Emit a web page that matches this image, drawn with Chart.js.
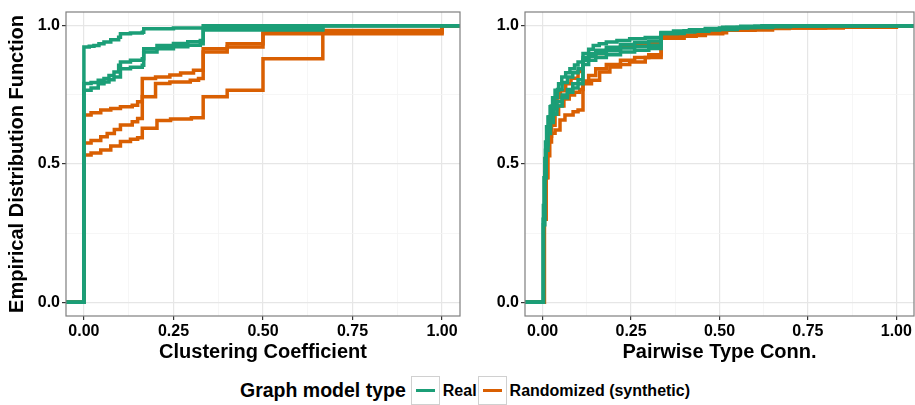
<!DOCTYPE html>
<html lang="en">
<head>
<meta charset="UTF-8">
<title>Empirical Distribution Function</title>
<script src="https://cdn.jsdelivr.net/npm/chart.js"></script>
<style>
  body {
    margin: 0;
    background: #ffffff;
    font-family: "Liberation Sans", Arial, sans-serif;
  }
  #wrap {
    position: relative;
    width: 915px;
    height: 405px;
    overflow: hidden;
  }
  .panel { position: absolute; top: 0; }
  #left { left: 0; }
  #right { left: 460px; }

  /* legend under the two panels */
  #legend {
    position: absolute;
    top: 376px;
    left: 240px;
    height: 29px;
    display: flex;
    align-items: center;
    white-space: nowrap;
    font-weight: bold;
    color: #000;
  }
  #legend .ltitle { font-size: 19.5px; margin-right: 5px; }
  #legend .key {
    width: 27px;
    height: 27px;
    border: 1px solid #d0d0d0;
    position: relative;
  }
  #legend .key i {
    position: absolute;
    left: 4px;
    right: 4px;
    top: 12px;
    height: 3px;
  }
  #legend .lab { font-size: 16px; margin: 0 1px 0 3px; }
</style>
</head>
<body>
<div id="wrap">
  <canvas id="left" class="panel" width="462" height="372"></canvas>
  <canvas id="right" class="panel" width="455" height="372"></canvas>
  <div id="legend"></div>
</div>

<script>
// axis ranges and ticks
const xMin = -0.05, xMax = 1.05;
const yMin = -0.05, yMax = 1.05;
const xMajor = [0, 0.25, 0.5, 0.75, 1];
const xMinor = [0.125, 0.375, 0.625, 0.875];
const xLabels = ['0.00', '0.25', '0.50', '0.75', '1.00'];
const yMajor = [0, 0.5, 1];
const yMinor = [0.25, 0.75];
const yLabels = ['0.0', '0.5', '1.0'];

const groupNames = ['Real', 'Randomized (synthetic)'];
const groupColors = ['#1b9e77', '#d95f02'];

// Clustering Coefficient, ECDF steps [x, F(x)]
const ccReal1 = [[0, 0.923], [0.015, 0.926], [0.028, 0.929], [0.042, 0.935], [0.056, 0.941], [0.075, 0.95],
  [0.097, 0.959], [0.102, 0.971], [0.13, 0.974], [0.163, 0.977], [0.167, 0.989], [0.25, 0.992], [0.333, 1.0]];
const ccReal2 = [[0, 0.791], [0.02, 0.795], [0.04, 0.803], [0.056, 0.809], [0.07, 0.82], [0.084, 0.833],
  [0.097, 0.857], [0.102, 0.869], [0.13, 0.875], [0.163, 0.881], [0.167, 0.917], [0.204, 0.929], [0.25, 0.936],
  [0.29, 0.942], [0.325, 0.947], [0.333, 0.99], [0.667, 1.0]];
const ccReal3 = [[0, 0.767], [0.02, 0.775], [0.04, 0.79], [0.056, 0.797], [0.07, 0.805], [0.084, 0.815],
  [0.102, 0.845], [0.13, 0.85], [0.163, 0.857], [0.167, 0.905], [0.204, 0.917], [0.25, 0.924], [0.29, 0.93],
  [0.325, 0.935], [0.333, 0.985], [0.667, 1.0]];
const ccRand1 = [[0, 0.677], [0.02, 0.685], [0.047, 0.695], [0.075, 0.701], [0.102, 0.707], [0.135, 0.713],
  [0.15, 0.725], [0.163, 0.809], [0.2, 0.815], [0.24, 0.822], [0.27, 0.829], [0.306, 0.839], [0.333, 0.917],
  [0.4, 0.935], [0.5, 0.977], [1.0, 1.0]];
const ccRand2 = [[0, 0.576], [0.02, 0.585], [0.047, 0.599], [0.065, 0.61], [0.085, 0.625], [0.102, 0.641],
  [0.135, 0.653], [0.15, 0.665], [0.163, 0.743], [0.2, 0.791], [0.24, 0.797], [0.297, 0.803], [0.32, 0.809],
  [0.333, 0.905], [0.4, 0.923], [0.5, 0.971], [1.0, 1.0]];
const ccRand3 = [[0, 0.533], [0.02, 0.54], [0.047, 0.551], [0.075, 0.565], [0.102, 0.581], [0.13, 0.59],
  [0.15, 0.595], [0.163, 0.629], [0.204, 0.657], [0.242, 0.663], [0.3, 0.667], [0.333, 0.743], [0.4, 0.767],
  [0.5, 0.881], [0.667, 0.983], [1.0, 1.0]];

// Pairwise Type Conn., ECDF steps [x, F(x)]
const ptReal1 = [[0.002, 0.35], [0.004, 0.45], [0.006, 0.52], [0.008, 0.58], [0.011, 0.635], [0.015, 0.67],
  [0.021, 0.707], [0.028, 0.74], [0.035, 0.767], [0.045, 0.79], [0.054, 0.815], [0.065, 0.83], [0.077, 0.845],
  [0.09, 0.858], [0.1, 0.869], [0.114, 0.9], [0.13, 0.915], [0.143, 0.929], [0.16, 0.935], [0.18, 0.941],
  [0.21, 0.947], [0.246, 0.953], [0.29, 0.958], [0.335, 0.976], [0.37, 0.981], [0.415, 0.986], [0.46, 0.99],
  [0.509, 0.995], [0.56, 0.998], [0.62, 1.0]];
const ptReal2 = [[0.002, 0.3], [0.005, 0.45], [0.008, 0.55], [0.012, 0.62], [0.017, 0.67], [0.024, 0.71],
  [0.032, 0.74], [0.042, 0.77], [0.055, 0.795], [0.07, 0.815], [0.085, 0.83], [0.1, 0.845], [0.114, 0.885],
  [0.13, 0.9], [0.15, 0.912], [0.18, 0.922], [0.22, 0.932], [0.26, 0.94], [0.3, 0.945], [0.335, 0.972],
  [0.38, 0.978], [0.43, 0.985], [0.5, 0.992], [0.58, 0.997], [0.7, 1.0]];
const ptReal3 = [[0.002, 0.28], [0.006, 0.45], [0.01, 0.55], [0.015, 0.61], [0.022, 0.65], [0.03, 0.68],
  [0.04, 0.71], [0.055, 0.74], [0.07, 0.76], [0.085, 0.775], [0.1, 0.79], [0.114, 0.86], [0.13, 0.875],
  [0.15, 0.885], [0.18, 0.895], [0.22, 0.905], [0.26, 0.912], [0.3, 0.918], [0.335, 0.975], [0.4, 0.982],
  [0.46, 0.988], [0.52, 0.994], [0.6, 0.998], [0.75, 1.0]];
const ptReal4 = [[0.002, 0.3], [0.006, 0.47], [0.01, 0.57], [0.015, 0.63], [0.022, 0.67], [0.03, 0.7],
  [0.04, 0.725], [0.055, 0.75], [0.07, 0.77], [0.085, 0.79], [0.1, 0.805], [0.114, 0.875], [0.13, 0.89],
  [0.15, 0.9], [0.18, 0.91], [0.22, 0.92], [0.26, 0.925], [0.3, 0.93], [0.335, 0.972], [0.4, 0.98],
  [0.47, 0.987], [0.55, 0.994], [0.65, 0.998], [0.8, 1.0]];
const ptRand1 = [[0.003, 0.3], [0.006, 0.45], [0.01, 0.55], [0.015, 0.62], [0.021, 0.67], [0.03, 0.71],
  [0.04, 0.74], [0.05, 0.765], [0.065, 0.79], [0.08, 0.81], [0.1, 0.835], [0.114, 0.875], [0.13, 0.89],
  [0.15, 0.9], [0.18, 0.912], [0.22, 0.925], [0.26, 0.935], [0.3, 0.94], [0.335, 0.96], [0.38, 0.967],
  [0.43, 0.975], [0.5, 0.985], [0.6, 0.992], [0.8, 0.996], [1.0, 1.0]];
const ptRand2 = [[0.004, 0.3], [0.008, 0.45], [0.012, 0.54], [0.018, 0.6], [0.025, 0.64], [0.035, 0.68],
  [0.045, 0.71], [0.06, 0.735], [0.075, 0.75], [0.09, 0.76], [0.105, 0.77], [0.114, 0.8], [0.13, 0.82],
  [0.15, 0.845], [0.18, 0.86], [0.22, 0.875], [0.26, 0.885], [0.3, 0.895], [0.335, 0.955], [0.4, 0.965],
  [0.46, 0.975], [0.52, 0.985], [0.65, 0.992], [0.85, 0.996], [1.0, 1.0]];
const ptRand3 = [[0.005, 0.3], [0.01, 0.45], [0.015, 0.53], [0.02, 0.58], [0.025, 0.611], [0.035, 0.623],
  [0.049, 0.659], [0.063, 0.677], [0.086, 0.689], [0.1, 0.695], [0.114, 0.79], [0.138, 0.803], [0.161, 0.833],
  [0.19, 0.851], [0.22, 0.86], [0.246, 0.869], [0.29, 0.885], [0.335, 0.955], [0.38, 0.962], [0.434, 0.971],
  [0.509, 0.984], [0.6, 0.99], [0.697, 0.995], [1.0, 1.0]];

const fontFamily = '"Liberation Sans", Arial, sans-serif';

// ECDF is padded out to the panel edges like ggplot's stat_ecdf
function toPoints(steps) {
  return [{x: xMin, y: 0}]
    .concat(steps.map(p => ({x: p[0], y: p[1]})))
    .concat([{x: xMax, y: 1}]);
}

function lineSet(steps, group) {
  return {
    label: groupNames[group],
    data: toPoints(steps),
    borderColor: groupColors[group],
    borderWidth: 3.5,
    pointRadius: 0,
    fill: false,
    stepped: 'before'
  };
}

const panelBorder = {
  id: 'panelBorder',
  afterDatasetsDraw(chart) {
    const a = chart.chartArea;
    const ctx = chart.ctx;
    ctx.save();
    ctx.strokeStyle = '#7f7f7f';
    ctx.lineWidth = 1.2;
    ctx.strokeRect(a.left, a.top, a.right - a.left, a.bottom - a.top);
    ctx.restore();
  }
};

function axis(min, max, major, minor, labels, size, horizontal) {
  const isMajor = v => major.some(m => Math.abs(m - v) < 1e-9);
  return {
    type: 'linear',
    min: min,
    max: max,
    afterBuildTicks: scale => {
      scale.ticks = major.concat(minor).sort((a, b) => a - b).map(v => ({value: v}));
    },
    afterFit: scale => {
      if (horizontal) scale.height = size; else scale.width = size;
      scale.paddingLeft = 0;
      scale.paddingRight = 0;
      scale.paddingTop = 0;
      scale.paddingBottom = 0;
    },
    border: {display: false},
    grid: {
      drawTicks: true,
      tickLength: 4,
      tickWidth: 1.2,
      tickColor: ctx => (ctx.tick && isMajor(ctx.tick.value)) ? '#333333' : 'rgba(0,0,0,0)',
      color: ctx => (ctx.tick && isMajor(ctx.tick.value)) ? '#e6e6e6' : '#f4f4f4',
      lineWidth: ctx => (ctx.tick && isMajor(ctx.tick.value)) ? 1.2 : 0.8
    },
    ticks: {
      autoSkip: false,
      maxRotation: 0,
      padding: 2,
      color: '#000000',
      font: {family: fontFamily, weight: 'bold', size: 16},
      callback: value => {
        const i = major.findIndex(m => Math.abs(m - value) < 1e-9);
        return i >= 0 ? labels[i] : '';
      }
    }
  };
}

function makePanel(id, datasets, xTitle, yTitle, yWidth, padRight) {
  const xAxis = axis(xMin, xMax, xMajor, xMinor, xLabels, 56, true);
  xAxis.title = {
    display: true,
    text: xTitle,
    color: '#000000',
    font: {family: fontFamily, weight: 'bold', size: 20},
    padding: {top: 0, bottom: 8}
  };
  const yAxis = axis(yMin, yMax, yMajor, yMinor, yLabels, yWidth, false);
  yAxis.title = {
    display: yTitle !== '',
    text: yTitle,
    color: '#000000',
    font: {family: fontFamily, weight: 'bold', size: 20},
    padding: {top: 5, bottom: 0}
  };

  return new Chart(document.getElementById(id), {
    type: 'line',
    data: {datasets: datasets},
    options: {
      responsive: false,
      animation: false,
      layout: {padding: {top: 12, right: padRight, left: 0, bottom: 0}},
      plugins: {
        legend: {display: false},
        tooltip: {enabled: false}
      },
      scales: {x: xAxis, y: yAxis}
    },
    plugins: [panelBorder]
  });
}

// green drawn last so it sits on top
makePanel('left', [
  lineSet(ccReal1, 0), lineSet(ccReal2, 0), lineSet(ccReal3, 0),
  lineSet(ccRand1, 1), lineSet(ccRand2, 1), lineSet(ccRand3, 1)
], 'Clustering Coefficient', 'Empirical Distribution Function', 66, 2);

makePanel('right', [
  lineSet(ptReal1, 0), lineSet(ptReal2, 0), lineSet(ptReal3, 0), lineSet(ptReal4, 0),
  lineSet(ptRand1, 1), lineSet(ptRand2, 1), lineSet(ptRand3, 1)
], 'Pairwise Type Conn.', '', 65, 1);

// legend
const legend = document.getElementById('legend');
let html = '<span class="ltitle">Graph model type</span>';
groupNames.forEach((name, i) => {
  html += '<span class="key"><i style="background:' + groupColors[i] + '"></i></span>' +
          '<span class="lab">' + name + '</span>';
});
legend.innerHTML = html;
</script>
</body>
</html>
